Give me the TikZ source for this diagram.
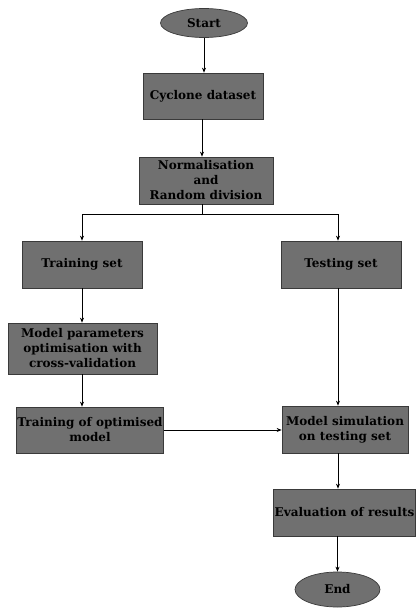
\documentclass[tikz,border=0pt]{standalone}
\usepackage{fontspec}
\setmainfont{DejaVu Serif}
\usetikzlibrary{shapes.geometric,arrows.meta}
\definecolor{boxgray}{HTML}{707070}
\definecolor{edgegray}{HTML}{3A3A3A}
\tikzset{
  stepbox/.style={draw=edgegray, fill=boxgray, line width=0.7pt, align=center,
    font=\bfseries\fontsize{12}{15}\selectfont, inner sep=1pt},
  term/.style={ellipse, draw=edgegray, fill=boxgray, line width=0.7pt,
    font=\bfseries\fontsize{12}{15}\selectfont, inner sep=1pt},
  flow/.style={draw=black, line width=0.7pt, -{Stealth[length=5pt,width=4pt]}},
  plain/.style={draw=black, line width=0.7pt}
}
\begin{document}
\begin{tikzpicture}[x=1pt,y=1pt]
\useasboundingbox (0,0) rectangle (415,-610);
\node[term, minimum width=87pt, minimum height=29pt] (start) at (204,-23) {Start};
\node[stepbox, minimum width=120pt, minimum height=46pt] (cyc) at (203,-96) {Cyclone dataset};
\node[stepbox, minimum width=134pt, minimum height=47pt] (norm) at (206,-180.5) {Normalisation\\and\\Random division};
\node[stepbox, minimum width=120pt, minimum height=47pt] (train) at (82,-264.5) {Training set};
\node[stepbox, minimum width=120pt, minimum height=47pt] (test) at (341,-264.5) {Testing set};
\node[stepbox, minimum width=149pt, minimum height=51pt] (mp) at (82.5,-348.5) {Model parameters\\optimisation with\\cross-validation};
\node[stepbox, minimum width=146pt, minimum height=46pt] (tom) at (90,-430) {Training of optimised\\model};
\node[stepbox, minimum width=126pt, minimum height=47pt] (ms) at (345,-429.5) {Model simulation\\on testing set};
\node[stepbox, minimum width=141pt, minimum height=47pt] (eval) at (344.5,-512.5) {Evaluation of results};
\node[term, minimum width=85pt, minimum height=35pt] (end) at (337.5,-589.5) {End};

\coordinate (sl) at (82,-214);
\coordinate (sm) at (202,-214);
\coordinate (sr) at (338,-214);

\draw[flow] (start.south) -- (start.south |- cyc.north);
\draw[flow] (cyc.south -| sm) -- (sm |- norm.north);
\draw[plain] (sm |- norm.south) -- (sm);
\draw[plain] (sl) -- (sr);
\draw[flow] (sl) -- (sl |- train.north);
\draw[flow] (sr) -- (sr |- test.north);
\draw[flow] (train.south -| sl) -- (sl |- mp.north);
\draw[flow] (sr |- test.south) -- (sr |- ms.north);
\draw[flow] (mp.south -| sl) -- (sl |- tom.north);
\draw[flow] (tom.east) -- (tom.east -| ms.west);
\draw[flow] (ms.south -| sr) -- (sr |- eval.north);
\draw[flow] (eval.south -| end.north) -- (end.north);
\end{tikzpicture}
\end{document}
